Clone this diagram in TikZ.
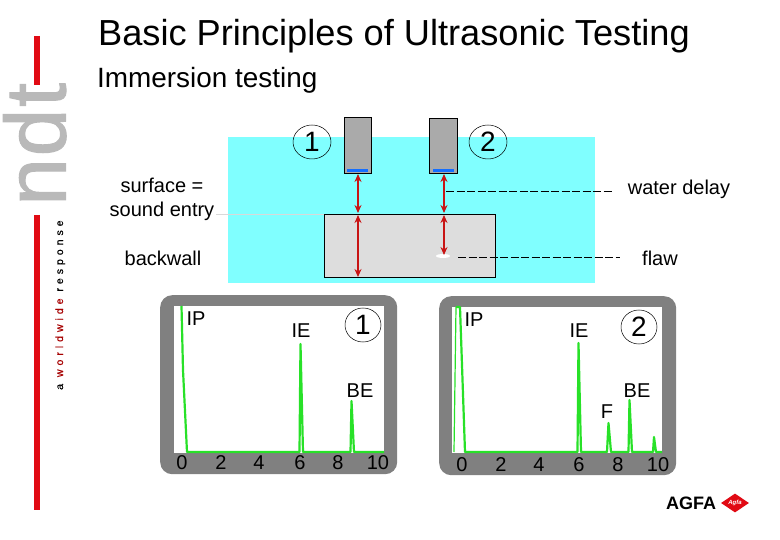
\documentclass[tikz,border=0pt]{standalone}
\usepackage{fontspec}
\setmainfont{Liberation Sans}
\newfontfamily\spaced[LetterSpace=38,FakeBold=0.6]{Liberation Sans}
\newfontfamily\ndtfont[FakeBold=1.2,LetterSpace=2]{Liberation Sans}
\usetikzlibrary{arrows.meta,shapes.geometric}
\definecolor{water}{RGB}{128,255,255}
\definecolor{blockgrey}{RGB}{221,221,221}
\definecolor{probe}{RGB}{170,170,170}
\definecolor{panel}{RGB}{128,128,128}
\definecolor{trace}{RGB}{40,225,40}
\definecolor{redbar}{RGB}{225,10,20}
\definecolor{logogrey}{RGB}{185,185,185}
\definecolor{crystal}{RGB}{20,110,255}
\tikzset{
  lbl/.style={inner sep=0pt,font=\fontsize{20}{24}\selectfont},
  tick/.style={inner sep=0pt,font=\fontsize{20}{22}\selectfont},
  numcirc/.style={draw=black,line width=.5pt,ellipse,minimum width=38pt,minimum height=34pt,inner sep=0pt,font=\fontsize{28}{30}\selectfont},
  probebox/.style={draw=black,line width=.8pt,fill=probe,minimum width=27pt,minimum height=56pt,inner sep=0pt},
  panelbox/.style={fill=panel,rounded corners=12pt,draw=none,minimum width=237pt,minimum height=179pt,inner sep=0pt},
  screen/.style={fill=white,draw=none,minimum width=210pt,minimum height=147pt,inner sep=0pt},
  dbl/.style={draw={rgb,255:red,200;green,20;blue,20},line width=1.6pt,{Stealth[length=8pt,width=7pt]}-{Stealth[length=8pt,width=7pt]},shorten <=0pt,shorten >=0pt},
  lead/.style={draw=black,line width=.5pt,dash pattern=on 8pt off 2.5pt},
  sig/.style={draw=trace,line width=2.2pt,line join=round},
  thinsig/.style={draw=trace,line width=1.2pt},
  redline/.style={draw=redbar,line width=6pt}
}
\begin{document}
\begin{tikzpicture}[x=1pt,y=-1pt]
\useasboundingbox (0,0) rectangle (780,540);
% sidebar
\coordinate (ra) at (37,36); \coordinate (rb) at (37,85);
\coordinate (rc) at (37,215); \coordinate (rd) at (37,510);
\draw[redline] (ra)--(rb);
\draw[redline] (rc)--(rd);
\node[rotate=90,anchor=base west,inner sep=0pt,text=logogrey,font=\ndtfont\fontsize{86}{86}\selectfont] (ndt) at (65.5,206) {ndt};
\node[rotate=90,anchor=base west,inner sep=0pt,font=\spaced\fontsize{10.5}{12}\selectfont] (slogan) at (63,390) {a \textcolor{red!65!black}{worldwide} response};
% titles
\node[anchor=base west,inner sep=0pt,font=\fontsize{36.2}{42}\selectfont] (title) at (98,46) {Basic Principles of Ultrasonic Testing};
\node[anchor=base west,inner sep=0pt,font=\fontsize{27.9}{32}\selectfont] (sub) at (97,88) {Immersion testing};
% tank
\node[fill=water,minimum width=367pt,minimum height=146pt,inner sep=0pt,anchor=north west] (tank) at (228,137) {};
\node[draw=black,line width=.8pt,fill=blockgrey,minimum width=171pt,minimum height=63pt,inner sep=0pt,anchor=north west] (block) at (324,214) {};
\node[probebox,anchor=north west] (p1) at (344,117) {};
\node[probebox,anchor=north west,minimum width=28pt,minimum height=55pt] (p2) at (429,118) {};
\node[fill=crystal,minimum width=21pt,minimum height=3pt,inner sep=0pt,anchor=south] (c1) at (357.5,172.4) {};
\node[fill=crystal,minimum width=21pt,minimum height=3pt,inner sep=0pt,anchor=south] (c2) at (443,172.4) {};
\node[numcirc] (n1) at (312,142) {1};
\node[numcirc] (n2) at (488,142) {2};
\node[fill=white,ellipse,minimum width=14pt,minimum height=4pt,inner sep=0pt] (flawmark) at (443,256) {};
% sound paths
\coordinate (a1) at (358,174); \coordinate (a2) at (358,213);
\coordinate (a3) at (358,215); \coordinate (a4) at (358,277);
\coordinate (b1) at (444,174); \coordinate (b2) at (444,213);
\coordinate (b3) at (444,215); \coordinate (b4) at (444,255);
\draw[dbl] (a1)--(a2);
\draw[dbl] (a3)--(a4);
\draw[dbl] (b1)--(b2);
\draw[dbl] (b3)--(b4);
% labels and leaders
\node[lbl,align=center] (surf) at (162,199.5) {surface =\\sound entry};
\node[lbl] (back) at (163,258) {backwall};
\node[lbl] (wd) at (679,189.5) {water delay};
\node[lbl] (fl) at (660,258) {flaw};
\coordinate (s1) at (216,214);
\draw[draw=black!15,line width=.6pt] (s1)--(block.north west);
\coordinate (w1) at (446,191); \coordinate (w2) at (612,191);
\coordinate (f1) at (458,257); \coordinate (f2) at (620,257);
\draw[lead] (w1)--(w2);
\draw[lead] (f1)--(f2);
% panel 1
\node[panelbox,anchor=north west] (pa) at (160,295) {};
\node[screen,anchor=north west] (sa) at (174,306) {};
\coordinate (sa0) at (181.5,306);
\draw[sig] (sa0)--(183,370)--(187,452)--(299.5,452)--(300.5,344)--(303,452)--(350.5,452)--(351.5,401)--(354,452)--(384,452);
\node[lbl] at (196,319) (ipa) {IP};
\node[lbl] at (301,331) (iea) {IE};
\node[lbl] at (360,391) (bea) {BE};
\node[numcirc,minimum width=36pt,minimum height=34pt] (na) at (363,325) {1};
\node[tick] (a0) at (182,463) {0};
\node[tick] (a2t) at (221,463) {2};
\node[tick] (a4t) at (259,463) {4};
\node[tick] (a6t) at (300,463) {6};
\node[tick] (a8t) at (338,463) {8};
\node[tick] (a10t) at (378,463) {10};
% panel 2
\node[panelbox,anchor=north west] (pb) at (439,296) {};
\node[screen,anchor=north west,minimum height=146pt] (sb) at (452,307) {};
\coordinate (sb0) at (454,452);
\draw[thinsig] (sb0)--(456,307);
\draw[sig] (456,307)--(460,307)--(465,452)--(577.5,452)--(578.5,343)--(581,452)--(607,452)--(608.5,423)--(611,452)--(628.5,452)--(629.5,400)--(632,452)--(653,452)--(654,437)--(656,452)--(662,452);
\node[lbl] (ipb) at (474,320) {IP};
\node[lbl] (ieb) at (579,331) {IE};
\node[lbl] (beb) at (637,391) {BE};
\node[lbl] (fb) at (607,412) {F};
\node[numcirc,minimum width=36pt,minimum height=34pt] (nb) at (639,327) {2};
\node[tick] (b0) at (462,465) {0};
\node[tick] (b2t) at (501,465) {2};
\node[tick] (b4t) at (539,465) {4};
\node[tick] (b6t) at (579,465) {6};
\node[tick] (b8t) at (618,465) {8};
\node[tick] (b10t) at (658,465) {10};
% logo
\node[anchor=west,inner sep=0pt,font=\bfseries\fontsize{18}{18}\selectfont] (agfa) at (666,503.5) {AGFA};
\node[diamond,fill=redbar,minimum width=28pt,minimum height=18pt,inner sep=0pt,text=white,font=\itshape\bfseries\fontsize{6}{6}\selectfont] (mark) at (735,503) {Agfa};
\end{tikzpicture}
\end{document}
